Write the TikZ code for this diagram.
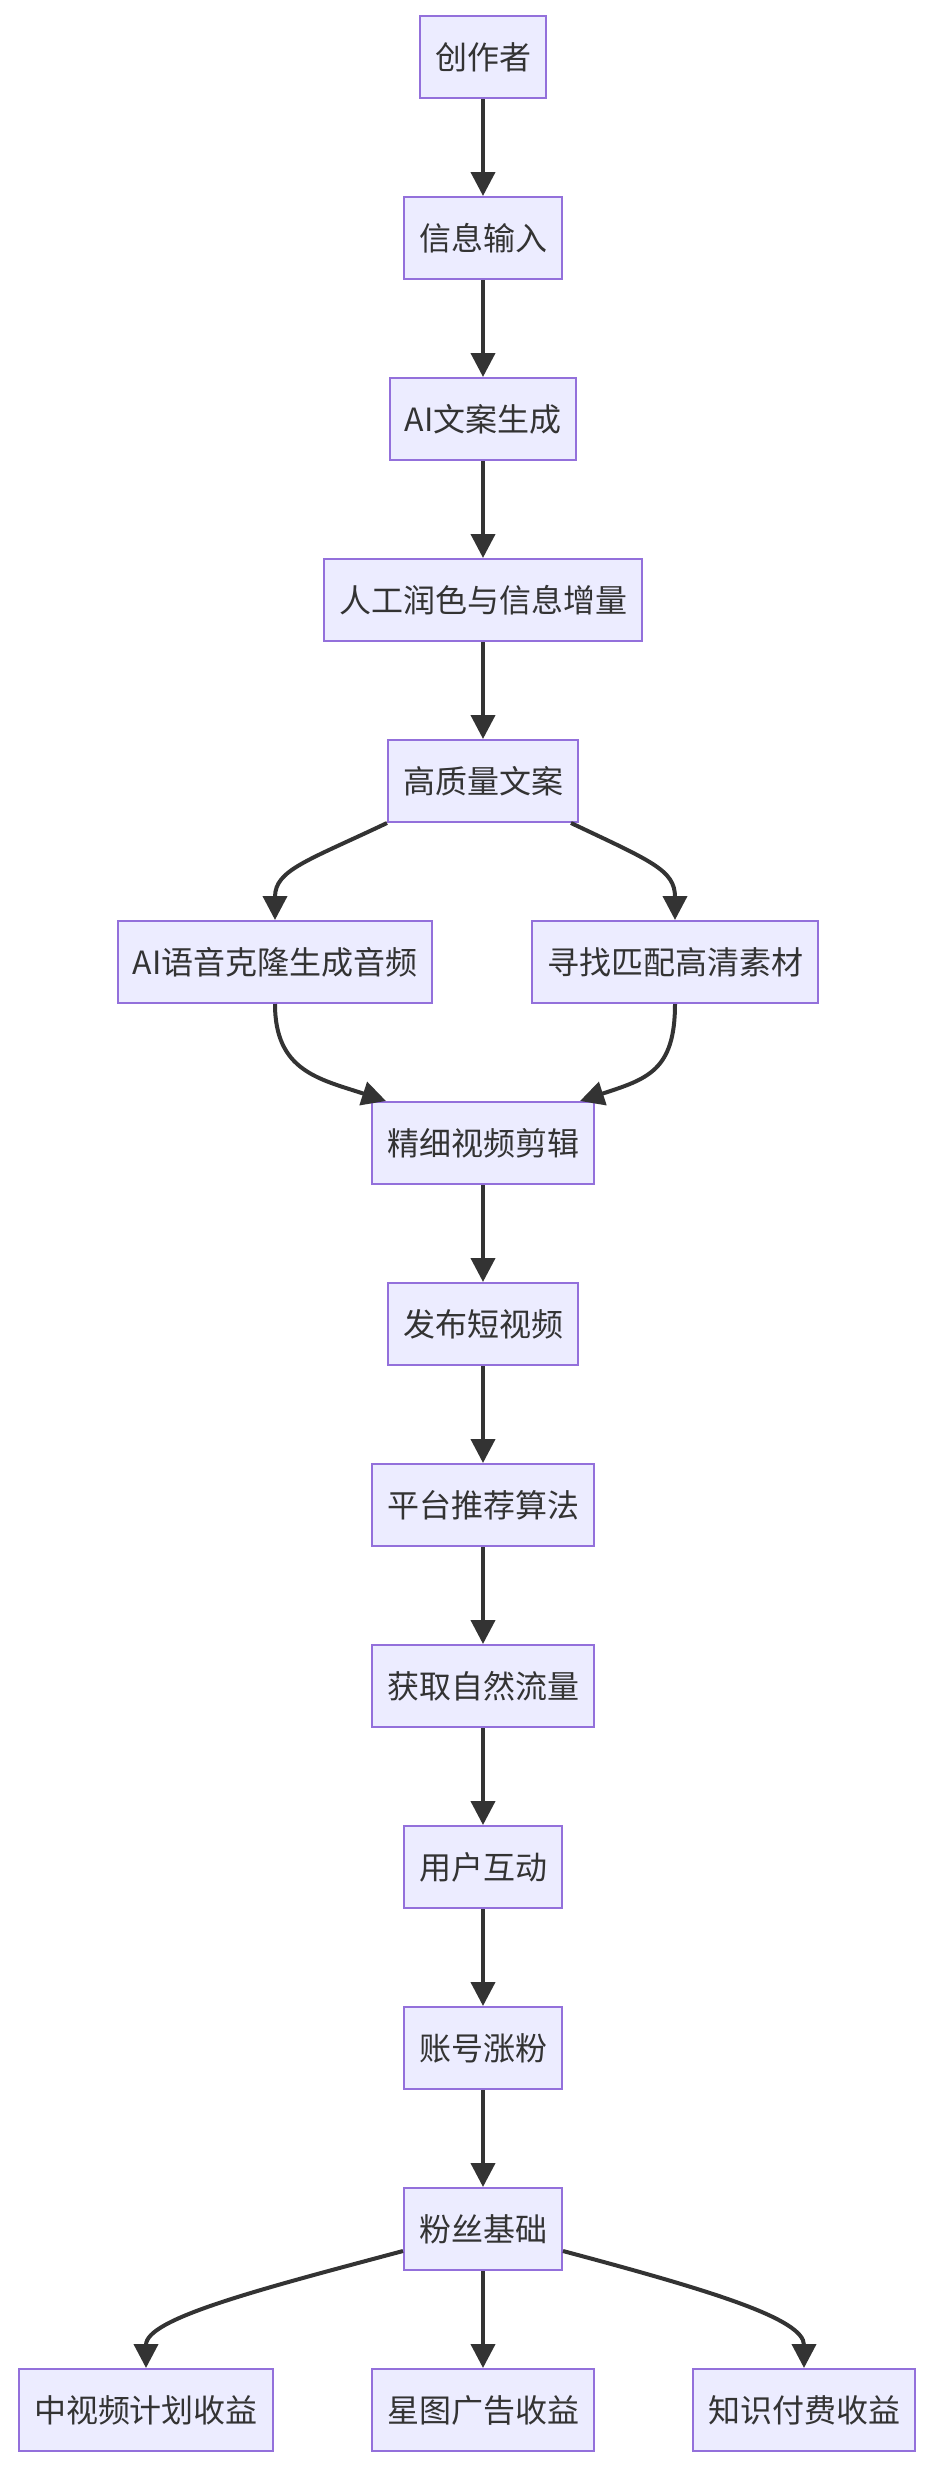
\documentclass[tikz,border=0pt]{standalone}
\usepackage{fontspec}
\setmainfont{Noto Sans CJK SC}
\usetikzlibrary{arrows.meta}
\definecolor{boxfill}{HTML}{ECECFF}
\definecolor{boxline}{HTML}{9370DB}
\definecolor{inkgray}{HTML}{333333}

\begin{document}
\begin{tikzpicture}[
	x=1pt, y=-1pt,
	every node/.style={font=\fontsize{32}{38}\selectfont, text=inkgray},
	box/.style={draw=boxline, fill=boxfill, line width=2pt, minimum height=82pt, inner xsep=15pt, inner ysep=0pt},
	flow/.style={draw=inkgray, line width=4pt, -{Triangle[length=24pt,width=24pt]}}
	]
	
	\useasboundingbox (0,0) rectangle (932,2470);
	
	% main column
	\node[box] (author) at (483,57) {创作者};
	\node[box] (input) at (483,238) {信息输入};
	\node[box] (draft) at (483,419) {AI文案生成};
	\node[box] (polish) at (483,600) {人工润色与信息增量};
	\node[box] (copy) at (483,781) {高质量文案};
	
	% two branches
	\node[box] (voice) at (275,962) {AI语音克隆生成音频};
	\node[box] (footage) at (675,962) {寻找匹配高清素材};
	
	\node[box] (edit) at (483,1143) {精细视频剪辑};
	\node[box] (publish) at (483,1324) {发布短视频};
	\node[box] (algo) at (483,1505) {平台推荐算法};
	\node[box] (traffic) at (483,1686) {获取自然流量};
	\node[box] (interact) at (483,1867) {用户互动};
	\node[box] (follow) at (483,2048) {账号涨粉};
	\node[box] (fans) at (483,2229) {粉丝基础};
	
	% income
	\node[box] (midvideo) at (146,2410) {中视频计划收益};
	\node[box] (stars) at (483,2410) {星图广告收益};
	\node[box] (paid) at (804,2410) {知识付费收益};
	
	% arrows
	\draw[flow] (author) -- (input);
	\draw[flow] (input) -- (draft);
	\draw[flow] (draft) -- (polish);
	\draw[flow] (polish) -- (copy);
	\draw[flow] (copy.south west) .. controls +(-80,38) and +(0,-50) .. (voice.north);
	\draw[flow] ([xshift=-8pt]copy.south east) .. controls +(80,38) and +(0,-50) .. (footage.north);
	\draw[flow] (voice.south) .. controls +(0,67) and +(-67,-22) .. ([xshift=15pt]edit.north west);
	\draw[flow] (footage.south) .. controls +(0,67) and +(67,-22) .. ([xshift=-15pt]edit.north east);
	\draw[flow] (edit) -- (publish);
	\draw[flow] (publish) -- (algo);
	\draw[flow] (algo) -- (traffic);
	\draw[flow] (traffic) -- (interact);
	\draw[flow] (interact) -- (follow);
	\draw[flow] (follow) -- (fans);
	\draw[flow] ([yshift=-22pt]fans.west) .. controls +(-150,40) and +(0,-49) .. (midvideo.north);
	\draw[flow] (fans) -- (stars);
	\draw[flow] ([yshift=-22pt]fans.east) .. controls +(150,40) and +(0,-49) .. (paid.north);
	
\end{tikzpicture}
\end{document}
